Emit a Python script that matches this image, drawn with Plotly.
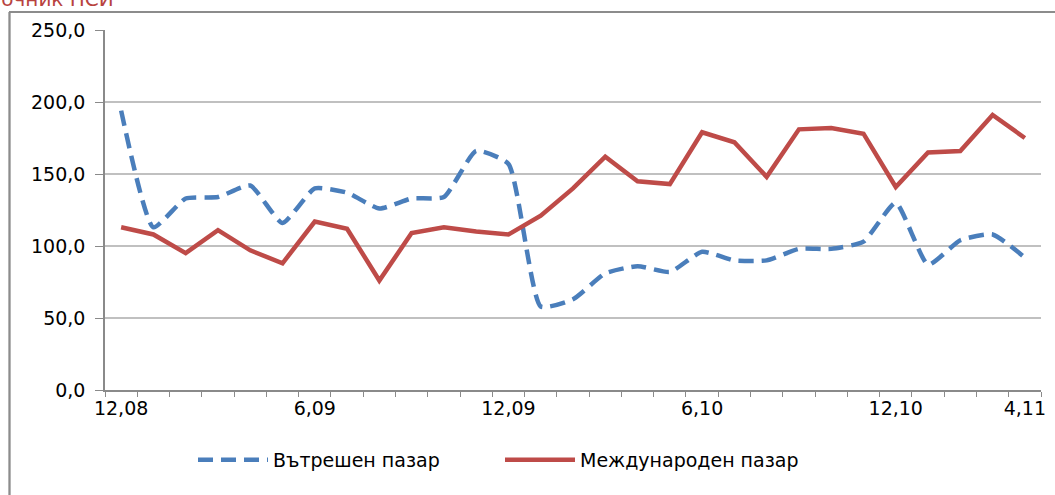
import plotly.graph_objects as go

months = ["12,08", "1,09", "2,09", "3,09", "4,09", "5,09", "6,09", "7,09", "8,09", "9,09",
          "10,09", "11,09", "12,09", "1,10", "2,10", "3,10", "4,10", "5,10", "6,10", "7,10",
          "8,10", "9,10", "10,10", "11,10", "12,10", "1,11", "2,11", "3,11", "4,11"]
shown_labels = ["12,08", "6,09", "12,09", "6,10", "12,10", "4,11"]

domestic = [194, 113, 133, 134, 142, 116, 140, 137, 126, 133, 134, 166, 157, 58, 63,
            81, 86, 82, 96, 90, 90, 98, 98, 103, 130, 87, 104, 108, 92]
international = [113, 108, 95, 111, 97, 88, 117, 112, 76, 109, 113, 110, 108, 121, 140,
                 162, 145, 143, 179, 172, 148, 181, 182, 178, 141, 165, 166, 191, 175]

name_dom = "Вътрешен пазар"
name_int = "Международен пазар"
source_text = "Източник НСИ"

W, H = 1055, 495
L, R, T, B = 105, 14, 30, 105
pw, ph = W - L - R, H - T - B


def px(x):
    return (x - L) / pw


def py(y):
    return (H - B - y) / ph


FONT = "DejaVu Sans"
GRAY = "#8a8a8a"

fig = go.Figure()
fig.add_trace(go.Scatter(
    x=months, y=domestic, name=name_dom, mode="lines",
    line=dict(color="#4a7ebb", width=4.5, dash="15px,8px", shape="spline", smoothing=0.5),
))
fig.add_trace(go.Scatter(
    x=months, y=international, name=name_int, mode="lines",
    line=dict(color="#be4b48", width=4.5),
))

fig.update_layout(
    width=W, height=H,
    margin=dict(l=L, r=R, t=T, b=B, autoexpand=False),
    paper_bgcolor="white", plot_bgcolor="white",
    separators=",.",
    font=dict(family=FONT, size=19, color="black"),
    showlegend=True,
    legend=dict(orientation="h", x=px(193), y=py(460), xanchor="left", yanchor="middle",
                font=dict(family=FONT, size=19, color="black"),
                itemwidth=70, entrywidth=222, bgcolor="rgba(0,0,0,0)"),
    xaxis=dict(
        type="category", categoryorder="array", categoryarray=months,
        tickmode="array", tickvals=months,
        ticktext=[m if m in shown_labels else "" for m in months],
        tickson="boundaries", ticks="outside", ticklen=5, tickcolor=GRAY, tickwidth=1,
        tickangle=0, automargin=False,
        showline=True, linecolor=GRAY, linewidth=1.5,
        showgrid=False, zeroline=False,
        tickfont=dict(family=FONT, size=19, color="black"),
        range=[-0.5, len(months) - 0.5],
    ),
    yaxis=dict(
        range=[0, 250], dtick=50, tick0=0, tickformat=".1f",
        ticks="outside", ticklen=8, tickcolor=GRAY, tickwidth=1,
        showline=True, linecolor=GRAY, linewidth=1.5,
        showgrid=True, gridcolor="#c0c0c0", gridwidth=1.5,
        zeroline=False, automargin=False,
        tickfont=dict(family=FONT, size=19, color="black"),
        ticklabelstandoff=6,
    ),
    shapes=[
        dict(type="line", xref="paper", yref="paper", x0=px(9), x1=px(W + 5), y0=py(12), y1=py(12),
             line=dict(color="#8c8c8c", width=2)),
        dict(type="line", xref="paper", yref="paper", x0=px(9.5), x1=px(9.5), y0=py(12), y1=py(H + 5),
             line=dict(color="#8c8c8c", width=2.3)),
    ],
    annotations=[
        dict(text=source_text, xref="paper", yref="paper", x=px(116), y=py(-1),
             xanchor="right", yanchor="middle", showarrow=False,
             font=dict(family=FONT, size=20, color="#b8433f")),
    ],
)

fig.write_html("out.html", config={"displayModeBar": False},
               post_script="document.body.style.margin='0';")
